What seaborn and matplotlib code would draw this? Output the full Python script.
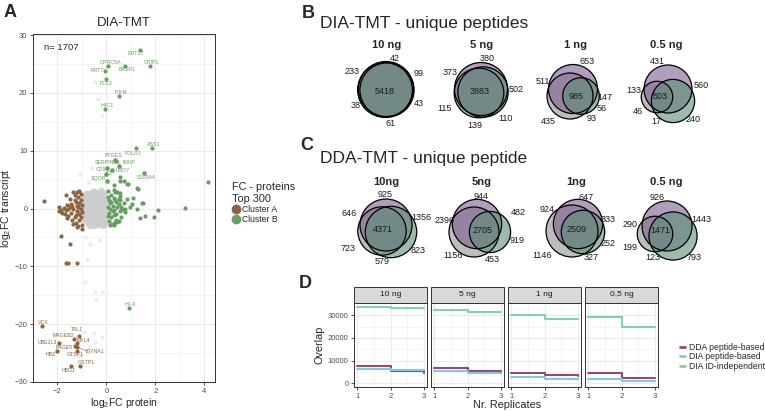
import numpy as np
import pandas as pd
import matplotlib
matplotlib.use('Agg')
import matplotlib.pyplot as plt
from matplotlib.patches import Circle, Rectangle
from matplotlib.lines import Line2D
import seaborn as sns

sns.set_theme(style='white')
plt.rcParams['font.family'] = ['Liberation Sans', 'DejaVu Sans']
plt.rcParams['mathtext.default'] = 'regular'

# ---------------- panel A data (log2FC protein vs transcript) ----------------
gray_x = [-0.5, -0.3, -0.7, -0.2, -0.9, -0.6, -0.4, -0.1, -0.8, -0.95, -0.35, -0.55, -0.15, -0.75,
          -1.0, -1.0, -0.05, -0.25, -0.65, -0.45, -0.85, -0.15, -0.5, -0.3, -0.7, -0.45, -0.6,
          -0.35, -0.2, -0.8, -0.9, -0.1, -0.55, -0.4, -0.65, -0.25, -0.05, -0.05, -0.95, -0.75,
          -0.3, -0.5, -0.6, -0.2, -0.85, -1.05, -0.4, -0.7, -0.15, -0.8, -0.35, -0.45, -0.6,
          -0.25, -0.9, -0.55, -0.1, -0.7, -0.3, -0.5, -0.95, -0.2, -0.65, -0.4, -0.85,
          -0.5, -0.3, -0.75, -0.15, -0.9, -0.6, -0.4, -0.05, -0.8, -0.55, -0.25, -0.7]
gray_y = [0.0, 0.5, -0.4, -0.8, 0.3, 1.2, -1.5, 1.0, -1.2, -0.2, 2.0, -2.1, -2.0, 1.9,
          1.0, -1.0, 0.1, -0.1, 0.6, -0.6, -0.7, 0.6, 1.6, -2.6, -2.5, 2.7, -1.0,
          1.3, -1.4, 0.9, -1.8, -0.4, 0.3, 0.9, -1.7, 2.4, 1.7, -1.2, 1.6, -0.1,
          -0.4, -2.9, 2.3, 3.0, 2.5, 0.2, 0.1, 1.4, -2.8, -2.1, -1.0, 1.8, -0.3,
          0.9, -0.5, -1.4, 2.2, 0.2, -1.8, 2.9, -1.3, -0.1, -2.8, -2.3, 1.2,
          -1.9, -2.2, 2.6, 2.6, 2.0, -0.6, 1.4, -2.5, -1.6, 2.9, 1.5, -1.5]
faint_x = [-0.86, -0.65, -0.79, -0.86, -0.45, -0.18, -0.41, -0.93, -0.52, -0.18, -0.45, -0.73,
           -1.06, -0.45, -0.33, -0.18, -1.06, -0.6, -0.74, -0.3]
faint_y = [-4.9, -6.2, -8.7, -12.7, -14.4, -14.4, -15.7, -21.3, -21.6, -22.3, -23.0, -23.9,
           -25.5, 21.9, 18.9, 16.0, 6.0, 7.1, 4.5, -5.5]

clusterA_x = [-1.05, -1.1, -1.1, -1.2, -1.2, -1.15, -1.1, -1.3, -1.3, -1.35, -1.25, -1.05, -1.0,
              -1.45, -1.45, -1.5, -1.55, -1.6, -1.65, -1.75, -1.85, -1.95, -1.7, -1.4, -1.2,
              -1.0, -1.3, -1.5, -1.05, -1.05, -1.15, -1.35, -1.6, -1.25, -1.25, -1.4, -1.15,
              -1.0, -1.0, -1.8, -1.55, -1.1, -1.35, -2.56, -1.65, -1.22, -1.93, -1.84, -1.48,
              -1.65, -1.57, -1.22]
clusterA_y = [0.0, 1.0, -1.0, 0.5, -0.5, 2.0, -2.0, 1.5, -1.5, 0.0, -2.5, 2.6, -2.8,
              0.8, -0.8, 0.2, -1.2, 0.6, -0.3, 0.1, -0.2, 0.3, -1.0, -2.0, -3.2,
              -3.6, 2.3, 1.6, 1.5, -1.5, -3.0, -2.7, -1.7, 1.2, -1.1, 0.4, 0.2,
              0.7, -0.6, -0.7, 0.0, 3.0, 2.9, 1.3, 2.4, 2.8, -0.5, -4.7, -6.1,
              -9.5, -9.5, -9.4]
clusterB_x = [0.05, 0.1, 0.15, 0.2, 0.25, 0.3, 0.35, 0.4, 0.45, 0.5, 0.55, 0.6, 0.05, 0.1, 0.2,
              0.3, 0.4, 0.5, 0.6, 0.7, 0.05, 0.15, 0.25, 0.35, 0.45, 0.55, 0.65, 0.75, 0.1,
              0.2, 0.3, 0.4, 0.05, 0.15, 0.3, 0.45, 0.3, 1.05, 1.46, 0.64, 0.98, 1.25, 1.59,
              1.93, 2.13, 3.22, 0.37, 0.23, 0.5, 1.28, 1.09, 1.49, 1.39, 0.54, 0.3, 0.57,
              0.84, 0.84, 0.57, 0.78, 0.04, 0.23, 0.0, 0.04, 0.54, 0.7, 0.88, 1.24, 4.15,
              1.52, 0.37, 0.5]
clusterB_y = [0.2, -0.8, 1.0, -1.5, 0.5, -0.3, 1.4, -1.0, 0.2, 0.8, -0.5, 0.3, 2.0, -2.2, 2.4,
              1.9, -1.9, 1.7, -1.4, 0.9, -1.2, 0.0, -0.4, 2.8, -2.3, 2.2, 0.0, -0.6, 1.4,
              1.1, -1.1, 1.2, 3.0, -2.8, 3.2, 2.9, -2.9, 0.8, 0.9, -0.05, 0.2, -0.05, -1.2,
              -1.5, -0.2, 0.1, -2.4, -2.6, -2.2, 3.4, 1.8, 1.0, -1.6, 2.7, 4.0, 4.8,
              4.3, 1.7, 1.4, -0.05, 6.95, 6.75, 6.0, 4.8, 5.5, 4.8, 4.3, 3.6, 4.65,
              6.1, 8.45, 7.3]

labB_name = ['KRT17', 'CRIP1', 'GPRC5A', 'BASP1', 'KRT7', 'PLS3', 'ITIH4', 'H4C1', 'ASS1',
             'FOLR1', 'PTGES', 'SERPINB5', 'IMUP', 'CD9', 'C3', 'LMO7', 'SQOR', 'S100A4', 'H1-0']
labB_x = [1.36, 1.78, 0.05, 0.75, -0.07, -0.03, 0.53, -0.07, 1.85, 1.2, 0.37, 0.4, 0.5, 0.04,
          0.0, 0.23, 0.04, 1.52, 0.91]
labB_y = [27.4, 24.7, 24.7, 24.7, 23.8, 22.4, 19.5, 17.2, 10.5, 10.4, 8.45, 8.2, 7.3, 6.95,
          6.0, 6.75, 4.8, 6.1, -17.2]
labB_tx = [1.18, 1.86, 0.16, 0.84, -0.38, 0.0, 0.6, 0.03, 1.93, 1.11, 0.3, 0.05, 0.91, -0.24,
           0.12, 0.68, -0.31, 1.63, 0.98]
labB_ty = [26.8, 25.3, 25.2, 24.0, 23.8, 21.7, 20.1, 17.8, 11.0, 9.6, 9.1, 7.9, 7.9, 6.7,
           6.0, 6.55, 5.2, 5.4, -16.6]

labA_name = ['VCX', 'TAL1', 'MAGEB2', 'MYL4', 'UBE2L3', 'PAGE5', 'ISYNA1', 'HBZ', 'GTSF1',
             'GSTP1', 'HBG1']
labA_x = [-2.63, -1.13, -1.31, -1.22, -1.92, -1.27, -1.2, -2.01, -1.19, -1.09, -1.43]
labA_y = [-20.3, -22.0, -22.5, -23.3, -23.2, -23.7, -23.9, -24.6, -24.6, -27.2, -27.2]
labA_tx = [-2.56, -1.22, -1.77, -0.95, -2.42, -1.71, -0.48, -2.26, -1.27, -0.82, -1.54]
labA_ty = [-19.7, -20.9, -22.0, -22.9, -23.2, -24.0, -24.7, -25.3, -25.3, -26.7, -28.0]

# ---------------- panels B/C data: venn region counts ----------------
# region order: P only, G only, Gr only, P&G, P&Gr, G&Gr, all three
venn_titles_B = ['10 ng', '5 ng', '1 ng', '0.5 ng']
venn_B = [[42, 38, 43, 233, 99, 61, 5418],
          [380, 115, 110, 373, 502, 139, 3883],
          [653, 435, 56, 511, 147, 93, 985],
          [431, 46, 240, 133, 560, 17, 503]]
venn_titles_C = ['10ng', '5ng', '1ng', '0.5 ng']
venn_C = [[925, 723, 823, 646, 1356, 579, 4371],
          [944, 1156, 919, 2396, 482, 453, 2705],
          [647, 1146, 252, 924, 333, 327, 2509],
          [926, 199, 793, 290, 1443, 123, 1471]]

# ---------------- panel D data ----------------
facets = ['10 ng', '5 ng', '1 ng', '0,5 ng']
methods = ['DDA peptide-based', 'DIA peptide-based', 'DIA ID-independent']
replicates = [1, 2, 3]
overlap = {
    '10 ng': [[7400, 5200, 4700], [6400, 5900, 5900], [33700, 33000, 33000]],
    '5 ng': [[6700, 5300, 4500], [5500, 4500, 4500], [32300, 31400, 31400]],
    '1 ng': [[4600, 3500, 3300], [2700, 1900, 1900], [30300, 28500, 28500]],
    '0,5 ng': [[4500, 2300, 2300], [2000, 1100, 1100], [29200, 24600, 24600]],
}
rows = []
for f in facets:
    for m, vals in zip(methods, overlap[f]):
        for r, v in zip(replicates, vals):
            rows.append({'facet': f, 'method': m, 'rep': r, 'overlap': v})
dfD = pd.DataFrame(rows)

col_A = '#8C6441'
col_B = '#689E62'
col_gray = '#CDCDCD'
line_cols = {'DDA peptide-based': '#8E4D6F', 'DIA peptide-based': '#86C5E8',
             'DIA ID-independent': '#82D2AC'}
tick_col = '#4D4D4D'

W, H = 765, 412
fig = plt.figure(figsize=(7.65, 4.12), dpi=100)


def fx(px):
    return px / W


def fy(py):
    return 1 - py / H


def style_panel(ax):
    ax.set_facecolor('white')
    for s in ax.spines.values():
        s.set_color('#333333')
        s.set_linewidth(0.7)
    ax.grid(True, which='major', color='#EBEBEB', lw=0.8)
    ax.grid(True, which='minor', color='#F2F2F2', lw=0.5)
    ax.set_axisbelow(True)
    ax.tick_params(which='major', length=2.5, width=0.6, color='#333333',
                   labelsize=5.5, labelcolor=tick_col, pad=1.5, bottom=True, left=True)
    ax.tick_params(which='minor', length=0)


# ---------------- panel A ----------------
axA = fig.add_axes([fx(33), fy(382), fx(215) - fx(33), fy(34) - fy(382)])
style_panel(axA)
sns.scatterplot(x=gray_x, y=gray_y, color=col_gray, s=30, alpha=0.85, linewidth=0, ax=axA)
sns.scatterplot(x=faint_x, y=faint_y, color=col_gray, s=10, alpha=0.35, linewidth=0, ax=axA)
sns.scatterplot(x=clusterA_x, y=clusterA_y, color=col_A, s=9, linewidth=0, ax=axA)
sns.scatterplot(x=clusterB_x, y=clusterB_y, color=col_B, s=9, linewidth=0, ax=axA)
sns.scatterplot(x=labB_x, y=labB_y, color=col_B, s=9, linewidth=0, ax=axA)
sns.scatterplot(x=labA_x, y=labA_y, color=col_A, s=9, linewidth=0, ax=axA)
for n, tx, ty in zip(labB_name, labB_tx, labB_ty):
    axA.text(tx, ty, n, fontsize=3.8, color=col_B, ha='center', va='center')
for n, x, y, tx, ty in zip(labA_name, labA_x, labA_y, labA_tx, labA_ty):
    axA.text(tx, ty, n, fontsize=3.8, color=col_A, ha='center', va='center')
    if n == 'ISYNA1':
        axA.plot([x, tx - 0.3], [y, ty], color=col_A, lw=0.4)
axA.set_xlim(-2.94, 4.44)
axA.set_ylim(-30.0, 30.2)
axA.set_xticks([-2, 0, 2, 4])
axA.set_xticks([-3, -1, 1, 3], minor=True)
axA.set_yticks([-30, -20, -10, 0, 10, 20, 30])
axA.set_yticks([-25, -15, -5, 5, 15, 25], minor=True)
axA.set_xlabel('log$_2$FC protein', fontsize=7.5, labelpad=1)
axA.set_ylabel('log$_2$FC transcript', fontsize=7.5, labelpad=1)
axA.set_title('DIA-TMT', fontsize=9.5, pad=6)
axA.text(0.06, 0.975, 'n= 1707', transform=axA.transAxes,
         fontsize=6.8, va='top', ha='left')

handlesA = [Line2D([], [], marker='o', ls='', color=col_A, markersize=6),
            Line2D([], [], marker='o', ls='', color=col_B, markersize=6)]
legA = fig.legend(handlesA, ['Cluster A', 'Cluster B'], title='FC - proteins\nTop 300',
                  loc='upper left', bbox_to_anchor=(fx(226), fy(176)), frameon=False,
                  fontsize=6.2, title_fontsize=7.8, handletextpad=0.2, labelspacing=0.15,
                  borderpad=0.2, handlelength=1.0)
legA._legend_box.align = 'left'

# ---------------- overlay for B/C venns and panel letters ----------------
ov = fig.add_axes([0, 0, 1, 1])
ov.set_xlim(0, W)
ov.set_ylim(H, 0)
ov.axis('off')
ov.patch.set_alpha(0)

for txt, x, y in [('A', 10, 12), ('B', 308, 13), ('C', 307, 145), ('D', 305, 283)]:
    ov.text(x, y, txt, fontsize=13, fontweight='bold', ha='center', va='center')

ov.text(320, 23, 'DIA-TMT - unique peptides', fontsize=12.5, ha='left', va='center')
ov.text(320, 158, 'DDA-TMT - unique peptide', fontsize=12.5, ha='left', va='center')

venn_cols = ['#929292', '#7E5C90', '#5A8F77']  # drawn G, P, Gr
draw_order = [1, 0, 2]

# layout: circle centers (P, G, Gr), max radius, title position, label positions
layout_B = [
    dict(c=[(386, 89), (385, 90), (387, 90)], R=27.5, t=(387, 45),
         lab=[(395, 58), (356, 105), (419, 103), (352, 71), (419, 73), (391, 123), (385, 91)]),
    dict(c=[(481, 89), (479, 93), (483, 92)], R=26.5, t=(482, 45),
         lab=[(487, 58), (445, 108), (506, 118), (450, 72), (516, 89), (475, 125), (480, 91)]),
    dict(c=[(573, 89), (570, 96), (581, 96)], R=24.5, t=(576, 45),
         lab=[(587, 61), (548, 121), (602, 108), (543, 81), (605, 97), (592, 118), (576, 96)]),
    dict(c=[(668, 89), (657, 97), (673, 101)], R=24, t=(666, 45),
         lab=[(657, 61), (638, 111), (693, 119), (634, 90), (701, 85), (656, 121), (660, 96)]),
]
layout_C = [
    dict(c=[(386, 225), (382, 231), (391, 232)], R=26, t=(386, 182),
         lab=[(385, 194), (348, 248), (418, 250), (349, 213), (421, 217), (382, 262), (383, 229)]),
    dict(c=[(477, 224), (474, 232), (490, 232)], R=25, t=(482, 182),
         lab=[(481, 196), (453, 256), (517, 240), (445, 220), (518, 212), (492, 260), (483, 230)]),
    dict(c=[(578, 224), (572, 231), (583, 232)], R=26, t=(576, 182),
         lab=[(586, 197), (542, 256), (608, 243), (547, 209), (608, 219), (591, 258), (577, 229)]),
    dict(c=[(667, 226), (655, 234), (673, 236)], R=25, t=(666, 182),
         lab=[(657, 197), (630, 247), (694, 257), (630, 224), (701, 219), (653, 257), (660, 230)]),
]


def draw_venn(counts, title, lay):
    p, g, gr, pg, pgr, ggr, allc = counts
    sizes = [p + pg + pgr + allc, g + pg + ggr + allc, gr + pgr + ggr + allc]
    smax = max(sizes)
    radii = [lay['R'] * np.sqrt(s / smax) for s in sizes]
    for k, col in zip(draw_order, venn_cols):
        ov.add_patch(Circle(lay['c'][k], radii[k], facecolor=col, alpha=0.6, edgecolor='none'))
    for k in range(3):
        ov.add_patch(Circle(lay['c'][k], radii[k], facecolor='none', edgecolor='black', lw=0.9))
    ov.text(lay['t'][0], lay['t'][1], title, fontsize=8, fontweight='bold',
            ha='center', va='center')
    for (lx, ly), v in zip(lay['lab'], counts):
        ov.text(lx, ly, str(v), fontsize=6.5, ha='center', va='center', color='#1A1A1A')


for cnt, t, lay in zip(venn_B, venn_titles_B, layout_B):
    draw_venn(cnt, t, lay)
for cnt, t, lay in zip(venn_C, venn_titles_C, layout_C):
    draw_venn(cnt, t, lay)

# ---------------- panel D ----------------
d_left = [354, 431, 508, 585]
d_w = 73
d_top, d_bot = 303, 387
strip_h = 16
axesD = []
for i, f in enumerate(facets):
    ax = fig.add_axes([fx(d_left[i]), fy(d_bot), d_w / W, (d_bot - d_top) / H])
    style_panel(ax)
    sub = dfD[dfD['facet'] == f]
    sns.lineplot(data=sub, x='rep', y='overlap', hue='method', palette=line_cols,
                 hue_order=methods, drawstyle='steps-post', lw=1.5, ax=ax, legend=False)
    ax.set_xlim(0.9, 3.1)
    ax.set_ylim(-1685, 35385)
    ax.set_xticks([1, 2, 3])
    ax.set_xticks([1.5, 2.5], minor=True)
    ax.set_yticks([0, 10000, 20000, 30000])
    ax.set_yticks([5000, 15000, 25000], minor=True)
    ax.set_xlabel('')
    ax.set_ylabel('')
    if i > 0:
        ax.tick_params(axis='y', which='major', length=0, labelleft=False)
    ax.add_patch(Rectangle((0, 1), 1, strip_h / (d_bot - d_top), transform=ax.transAxes,
                           facecolor='#D9D9D9', edgecolor='#333333', lw=0.7, clip_on=False))
    ax.text(0.5, 1 + strip_h / (d_bot - d_top) / 2, f, transform=ax.transAxes,
            fontsize=6, ha='center', va='center', color='#1A1A1A')
    axesD.append(ax)

axesD[0].set_ylabel('Overlap', fontsize=7.8, labelpad=2)
fig.text(fx(507), fy(405), 'Nr. Replicates', fontsize=7.8, ha='center', va='center')

handlesD = [Line2D([], [], color=line_cols[m], lw=2) for m in methods]
fig.legend(handlesD, methods, loc='upper left', bbox_to_anchor=(fx(674), fy(337)),
           frameon=False, fontsize=6.2, handlelength=0.6, handletextpad=0.4,
           labelspacing=0.05, borderpad=0.2)

fig.savefig('out.png', dpi=100)
